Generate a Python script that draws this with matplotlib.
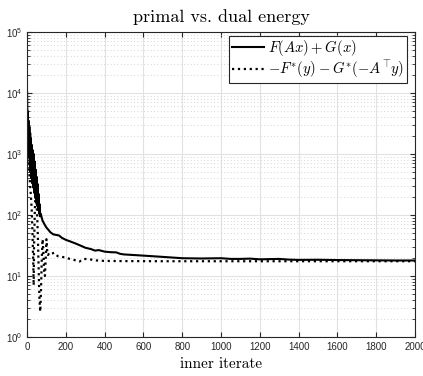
import math

import matplotlib
matplotlib.use("Agg")
import matplotlib.pyplot as plt
from matplotlib.ticker import LogLocator, FixedLocator, FuncFormatter, NullFormatter

# %% data

primal_iter = [0, 1, 2, 4, 6, 8, 10, 12, 14, 16, 18, 20, 22, 25, 27, 30, 32, 34, 37,
               40, 42, 45, 47, 50, 52, 55, 57, 60, 62, 65, 67, 70, 80, 90, 100, 110,
               120, 135, 150, 165, 180, 200, 220, 250, 280, 300, 330, 350, 370, 400,
               430, 460, 480, 500, 550, 600, 650, 700, 750, 800, 900, 1000, 1050,
               1100, 1150, 1200, 1300, 1350, 1400, 1500, 1600, 1700, 1800, 1900, 2000]
primal_energy = [10500, 6000, 3000, 5000, 1500, 3500, 900, 2800, 650, 2200, 500, 1800,
                 400, 1400, 330, 1150, 280, 1000, 230, 750, 190, 550, 160, 420, 140,
                 320, 120, 220, 105, 150, 95, 105, 80, 70, 62, 57, 52, 48, 47, 46, 42,
                 39, 37, 34, 31, 29, 27.5, 26, 26.5, 25, 24.5, 24.3, 23, 22.5, 22,
                 21.5, 21, 20.5, 20, 19.5, 19.3, 19.5, 19, 19, 19.2, 18.7, 19, 18.5,
                 18.3, 18.4, 18.2, 18.1, 18.0, 17.9, 17.9]

dual_iter = [0, 4, 8, 12, 16, 20, 24, 28, 32, 34, 36, 40, 44, 48, 52, 56, 60, 64, 68,
             72, 76, 80, 84, 88, 92, 96, 100, 104, 108, 115, 125, 140, 150, 160, 180,
             200, 220, 250, 270, 290, 320, 350, 400, 500, 700, 1000, 1300, 1600, 2000]
dual_energy = [900, 800, 700, 450, 300, 200, 120, 50, 15, 7, 30, 120, 250, 200, 100,
               40, 12, 4, 2.6, 6, 20, 40, 25, 12, 10, 18, 40, 25, 22, 24, 23, 24, 22,
               21, 20.5, 20, 19, 18, 17.2, 19, 18.8, 18, 17.6, 17.5, 17.4, 17.4, 17.4,
               17.4, 17.4]

# %% figure

plt.rcParams['font.family'] = ['Liberation Sans', 'DejaVu Sans']
plt.rcParams['mathtext.fontset'] = 'cm'

fig = plt.figure(figsize=(4.23, 3.76), dpi=100)
ax = fig.add_axes([0.064, 0.104, 0.917, 0.811])

ax.semilogy(primal_iter, primal_energy, '-', color='k', lw=1.5,
            label=r'$F(Ax) + G(x)$')
ax.semilogy(dual_iter, dual_energy, ':', color='k', lw=1.6,
            label=r'$-F^{*}(y)-G^{*}(-A^{\!\top}\!y)$')

ax.set_xlim(0, 2000)
ax.set_ylim(1, 1e5)
ax.set_xticks(range(0, 2001, 200))
ax.yaxis.set_major_locator(FixedLocator([1, 10, 100, 1e3, 1e4, 1e5]))
ax.yaxis.set_minor_locator(LogLocator(base=10, subs=range(2, 10), numticks=20))
ax.yaxis.set_minor_formatter(NullFormatter())
ax.yaxis.set_major_formatter(FuncFormatter(
    lambda v, p: r'$\mathregular{10^{%d}}$' % round(math.log10(v))))

ax.grid(True, which='major', color='#e2e2e2', lw=0.8, ls='-')
ax.grid(True, which='minor', axis='y', color='#c8c8c8', lw=0.6, ls=(0, (1, 3)))
ax.set_axisbelow(True)

ax.tick_params(which='both', direction='in', top=True, right=True,
               color='#262626', labelsize=7, labelcolor='#262626')
ax.tick_params(which='major', length=3.5)
ax.tick_params(which='minor', length=2)
for s in ax.spines.values():
    s.set_color('#262626')
    s.set_linewidth(0.8)

ax.set_title('primal vs. dual energy', family='cmr10', fontsize=13, pad=7)
ax.set_xlabel('inner iterate', family='cmr10', fontsize=11, labelpad=4)

leg = ax.legend(loc='upper right', bbox_to_anchor=(0.979, 0.987), borderaxespad=0,
                fontsize=10.6, frameon=True, fancybox=False,
                edgecolor='#262626', framealpha=1, handlelength=2.2,
                borderpad=0.15, labelspacing=0.05, handletextpad=0.3)
leg.get_frame().set_linewidth(0.8)

fig.savefig('out.png', dpi=100)
